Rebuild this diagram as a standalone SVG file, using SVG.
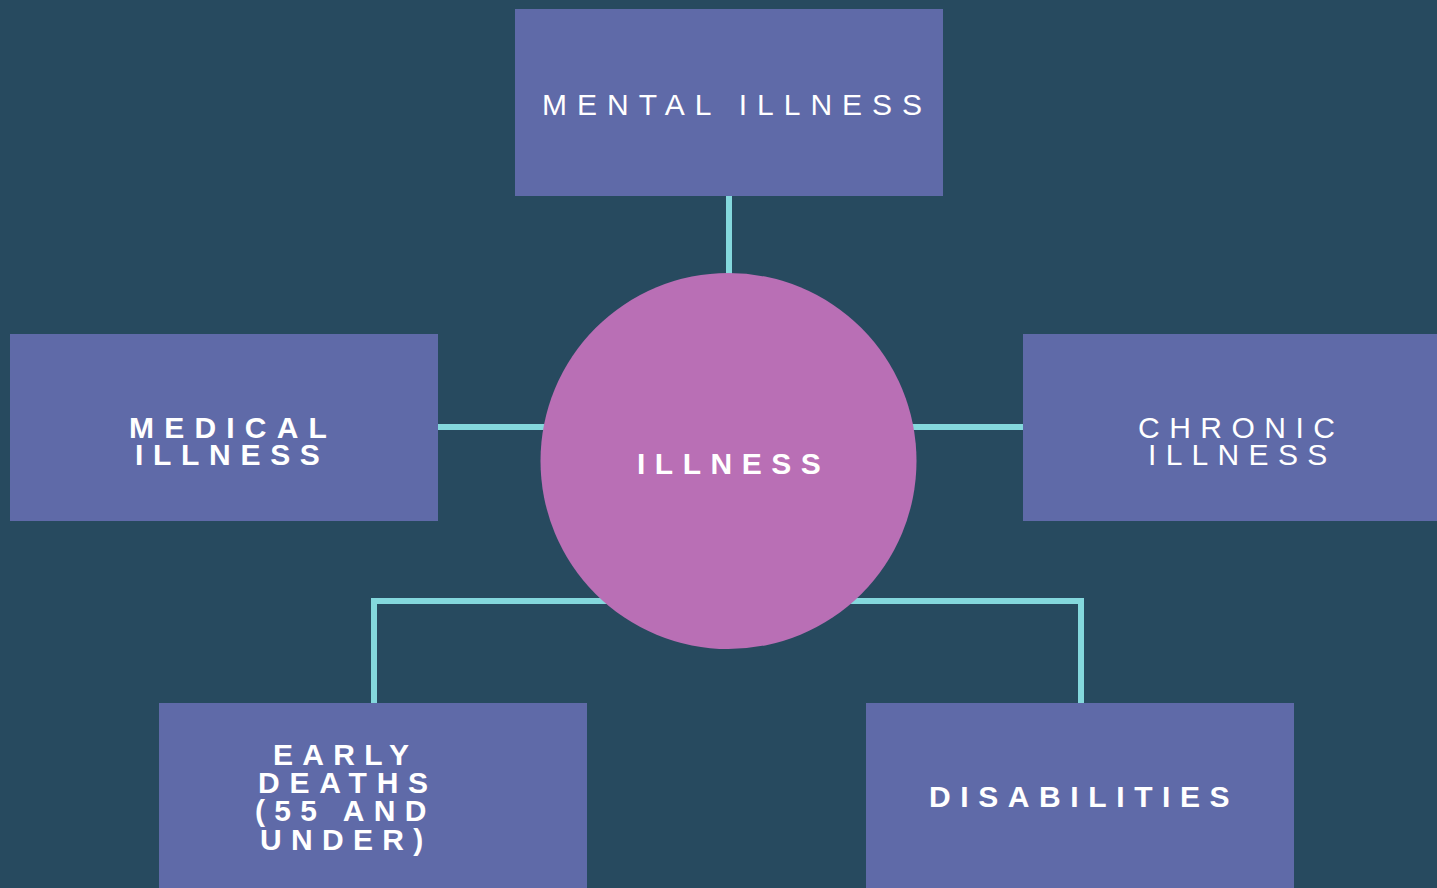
<svg xmlns="http://www.w3.org/2000/svg" width="1437" height="888" viewBox="0 0 1437 888">
<style>
.box{fill:#5f6aa8}
.t{fill:#ffffff;font-family:"Liberation Sans",Arial,sans-serif;font-size:30px}
.b{font-weight:bold}
.c{fill:none;stroke:#84d8dd;stroke-width:6}
</style>
<rect width="1437" height="888" fill="#274a5f"/>
<g id="connectors">
<line class="c" x1="729" y1="196" x2="729" y2="276"/>
<line class="c" x1="438" y1="427" x2="548" y2="427"/>
<line class="c" x1="910" y1="427" x2="1023" y2="427"/>
<polyline class="c" points="374,703 374,601 610,601"/>
<polyline class="c" points="845,601 1081,601 1081,703"/>
</g>
<g id="mental"><rect class="box" x="515" y="9" width="428" height="187"/>
<text class="t" x="542" y="115" font-size="31" letter-spacing="10">MENTAL ILLNESS</text></g>
<g id="medical"><rect class="box" x="10" y="334" width="428" height="187"/>
<text class="t b" x="129" y="438" letter-spacing="10.2">MEDICAL</text>
<text class="t b" x="135" y="465" letter-spacing="9.7">ILLNESS</text></g>
<g id="chronic"><rect class="box" x="1023" y="334" width="414" height="187"/>
<text class="t" x="1138" y="438" letter-spacing="9.5">CHRONIC</text>
<text class="t" x="1148" y="465" letter-spacing="9.3">ILLNESS</text></g>
<g id="illness"><circle cx="728.5" cy="461" r="188" fill="#b96fb5"/>
<text class="t b" x="637" y="474" font-size="29" letter-spacing="9.5">ILLNESS</text></g>
<g id="early"><rect class="box" x="159" y="703" width="428" height="185"/>
<text class="t b" x="273" y="765" letter-spacing="9.3">EARLY</text>
<text class="t b" x="258" y="793" letter-spacing="9.8">DEATHS</text>
<text class="t b" x="255" y="821" letter-spacing="9.3">(55 AND</text>
<text class="t b" x="260" y="850" letter-spacing="9.3">UNDER)</text></g>
<g id="disabilities"><rect class="box" x="866" y="703" width="428" height="185"/>
<text class="t b" x="929" y="807" font-size="28" letter-spacing="9.6">DISABILITIES</text></g>
</svg>
